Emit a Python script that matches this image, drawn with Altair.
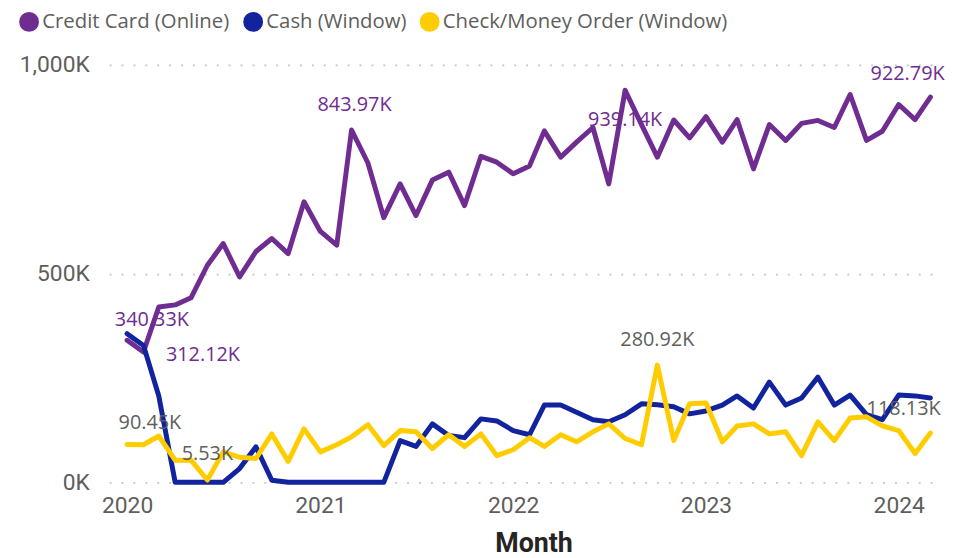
import altair as alt
import pandas as pd

# ---------------- data ----------------
months = [f"{y}-{m:02d}-01" for y in range(2020, 2025) for m in range(1, 13)][:51]
series_names = ["Credit Card (Online)", "Cash (Window)", "Check/Money Order (Window)"]
series_colors = ["#6F2C91", "#12239E", "#FFCC00"]

# values in thousands
credit = [340.33, 312.12, 420, 425, 442, 520, 572, 492, 553, 584,
          548, 672, 601, 568, 843.97, 765, 634, 715, 639, 724,
          743, 663, 781, 767, 739, 758, 842, 779, 815, 850,
          715, 939.14, 857, 779, 868, 825, 876, 815, 869, 751,
          857, 819, 860, 867, 850, 929, 819, 841, 905, 869,
          922.79]
cash = [356, 328, 207, 0, 0, 0, 0, 33, 85, 5,
        0, 0, 0, 0, 0, 0, 0, 100, 86, 140,
        112, 107, 152, 147, 124, 114, 185, 185, 168, 150,
        145, 162, 188, 186, 181, 164, 171, 185, 207, 178,
        240, 185, 202, 252, 185, 209, 162, 150, 209, 207,
        202]
check = [90.45, 90, 111, 53, 53, 5.53, 73, 60, 57, 116,
         50, 128, 73, 90, 109, 138, 88, 124, 121, 81,
         114, 86, 116, 64, 78, 107, 86, 114, 97, 121,
         140, 105, 90, 280.92, 100, 188, 190, 97, 135, 140,
         116, 121, 64, 145, 100, 154, 157, 135, 124, 69,
         118.13]

y_ticks = [0, 500, 1000]
year_ticks = [2020, 2021, 2022, 2023, 2024]

# labelled points: (series, month)
labelled = [
    ("Credit Card (Online)", "2020-01-01"),
    ("Credit Card (Online)", "2020-02-01"),
    ("Credit Card (Online)", "2021-03-01"),
    ("Credit Card (Online)", "2022-08-01"),
    ("Credit Card (Online)", "2024-03-01"),
    ("Check/Money Order (Window)", "2020-01-01"),
    ("Check/Money Order (Window)", "2020-06-01"),
    ("Check/Money Order (Window)", "2022-10-01"),
    ("Check/Money Order (Window)", "2024-03-01"),
]

rows = []
for name, vals in zip(series_names, [credit, cash, check]):
    for m, v in zip(months, vals):
        rows.append({"series": name, "month": m, "key": "k" + m, "value": v})
df = pd.DataFrame(rows)

# ---------------- styling ----------------
AXIS_FONT = "Roboto"
TEXT_GREY = "#605E5C"

x_enc = alt.X(
    "month:T",
    scale=alt.Scale(
        type="utc",
        domain=[alt.DateTime(year=2019, month=11, date=28, utc=True),
                alt.DateTime(year=2024, month=3, date=23, utc=True)],
        nice=False,
    ),
    axis=alt.Axis(
        values=[alt.DateTime(year=y, month=1, date=1, utc=True) for y in year_ticks],
        format="%Y",
        domain=False, ticks=False, grid=False,
        labelFont=AXIS_FONT, labelFontSize=23, labelColor=TEXT_GREY,
        labelPadding=12,
        title="Month", titleFont=AXIS_FONT, titleFontSize=27, titleFontWeight="bold",
        titleColor="#252423", titleY=70, titleX=428, titleAlign="center",
        titleBaseline="alphabetic",
    ),
)
y_enc = alt.Y(
    "value:Q",
    scale=alt.Scale(domain=[0, 1000], nice=False),
    axis=alt.Axis(
        values=y_ticks,
        labelExpr="format(datum.value, ',') + 'K'",
        domain=False, ticks=False, grid=True,
        gridDash=[2, 10], gridColor="#C8C6C4", gridWidth=1.8,
        labelFont=AXIS_FONT, labelFontSize=23, labelColor=TEXT_GREY,
        labelPadding=20, title=None,
    ),
)
color_enc = alt.Color(
    "series:N",
    scale=alt.Scale(domain=series_names, range=series_colors),
    sort=series_names,
    legend=alt.Legend(
        title=None, orient="none", legendX=-91, legendY=-54,
        direction="horizontal", symbolType="circle",
        symbolSize=100, symbolStrokeWidth=10, symbolOpacity=1,
        labelFont="Open Sans", labelFontSize=20.5, labelColor=TEXT_GREY,
        labelOffset=3, columnPadding=-2, labelLimit=500,
    ),
)

lines = alt.Chart(df).mark_line(strokeJoin="round", strokeCap="round").encode(
    x=x_enc, y=y_enc, color=color_enc, strokeWidth=alt.value(5),
)

# data label offsets (pixels) per labelled point
offsets = [(25, -20), (60, 3), (3, -25), (0, 30), (-23, -23),
           (23, -22), (0, -26), (0, -25), (-27, -24)]

layers = [lines]
for (s, m), (dx, dy) in zip(labelled, offsets):
    col = series_colors[0] if s == series_names[0] else TEXT_GREY
    layers.append(
        alt.Chart(df)
        .transform_filter((alt.datum.series == s) & (alt.datum.key == "k" + m))
        .transform_calculate(label="format(datum.value, '.2f') + 'K'")
        .mark_text(font="Open Sans", fontSize=20, color=col, dx=dx, dy=dy,
                   align="center", baseline="middle")
        .encode(x=alt.X("month:T"), y=alt.Y("value:Q"), text="label:N")
    )

chart = (
    alt.layer(*layers)
    .properties(
        width=840, height=421,
        autosize=alt.AutoSizeParams(type="none"),
        padding={"left": 102, "top": 55, "right": 3, "bottom": 80},
        background="white",
    )
    .configure_view(stroke=None)
)

chart.save("out.html", embed_options={"renderer": "svg", "actions": False})
